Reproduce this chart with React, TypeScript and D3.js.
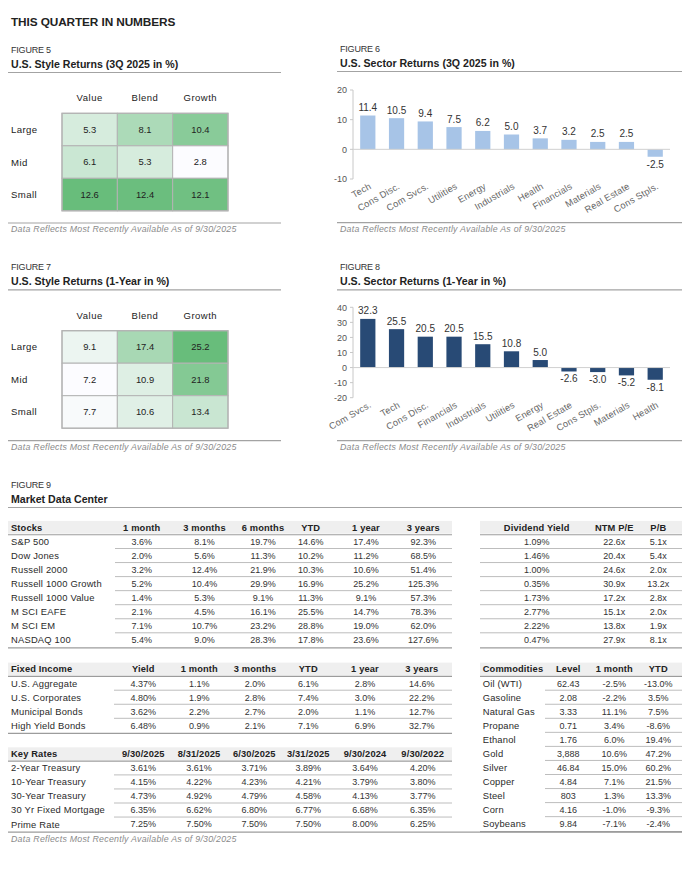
import React from "react";
import * as d3 from "d3";

// ---------- DATA ----------
const styleCols = ["Value", "Blend", "Growth"];
const styleRows = ["Large", "Mid", "Small"];
const style3Q = [
  [5.3, 8.1, 10.4],
  [6.1, 5.3, 2.8],
  [12.6, 12.4, 12.1],
];
const style1Y = [
  [9.1, 17.4, 25.2],
  [7.2, 10.9, 21.8],
  [7.7, 10.6, 13.4],
];

const sectors3Q = ["Tech", "Cons Disc.", "Com Svcs.", "Utilities", "Energy", "Industrials", "Health", "Financials", "Materials", "Real Estate", "Cons Stpls."];
const returns3Q = [11.4, 10.5, 9.4, 7.5, 6.2, 5.0, 3.7, 3.2, 2.5, 2.5, -2.5];
const ticks3Q = [-10, 0, 10, 20];

const sectors1Y = ["Com Svcs.", "Tech", "Cons Disc.", "Financials", "Industrials", "Utilities", "Energy", "Real Estate", "Cons Stpls.", "Materials", "Health"];
const returns1Y = [32.3, 25.5, 20.5, 20.5, 15.5, 10.8, 5.0, -2.6, -3.0, -5.2, -8.1];
const ticks1Y = [-20, -10, 0, 10, 20, 30, 40];

const stockHeaders = ["Stocks", "1 month", "3 months", "6 months", "YTD", "1 year", "3 years"];
const stockNames = ["S&P 500", "Dow Jones", "Russell 2000", "Russell 1000 Growth", "Russell 1000 Value", "M SCI EAFE", "M SCI EM", "NASDAQ 100"];
const stockReturns = [
  [3.6, 8.1, 19.7, 14.6, 17.4, 92.3],
  [2.0, 5.6, 11.3, 10.2, 11.2, 68.5],
  [3.2, 12.4, 21.9, 10.3, 10.6, 51.4],
  [5.2, 10.4, 29.9, 16.9, 25.2, 125.3],
  [1.4, 5.3, 9.1, 11.3, 9.1, 57.3],
  [2.1, 4.5, 16.1, 25.5, 14.7, 78.3],
  [7.1, 10.7, 23.2, 28.8, 19.0, 62.0],
  [5.4, 9.0, 28.3, 17.8, 23.6, 127.6],
];

const valuationHeaders = ["Dividend Yield", "NTM P/E", "P/B"];
const dividendYield = [1.09, 1.46, 1.0, 0.35, 1.73, 2.77, 2.22, 0.47];
const ntmPE = [22.6, 20.4, 24.6, 30.9, 17.2, 15.1, 13.8, 27.9];
const priceBook = [5.1, 5.4, 2.0, 13.2, 2.8, 2.0, 1.9, 8.1];

const fixedHeaders = ["Fixed Income", "Yield", "1 month", "3 months", "YTD", "1 year", "3 years"];
const fixedNames = ["U.S. Aggregate", "U.S. Corporates", "Municipal Bonds", "High Yield Bonds"];
const fixedYield = [4.37, 4.8, 3.62, 6.48];
const fixedReturns = [
  [1.1, 2.0, 6.1, 2.8, 14.6],
  [1.9, 2.8, 7.4, 3.0, 22.2],
  [2.2, 2.7, 2.0, 1.1, 12.7],
  [0.9, 2.1, 7.1, 6.9, 32.7],
];

const rateHeaders = ["Key Rates", "9/30/2025", "8/31/2025", "6/30/2025", "3/31/2025", "9/30/2024", "9/30/2022"];
const rateNames = ["2-Year Treasury", "10-Year Treasury", "30-Year Treasury", "30 Yr Fixed Mortgage", "Prime Rate"];
const rateValues = [
  [3.61, 3.61, 3.71, 3.89, 3.64, 4.2],
  [4.15, 4.22, 4.23, 4.21, 3.79, 3.8],
  [4.73, 4.92, 4.79, 4.58, 4.13, 3.77],
  [6.35, 6.62, 6.8, 6.77, 6.68, 6.35],
  [7.25, 7.5, 7.5, 7.5, 8.0, 6.25],
];

const commodityHeaders = ["Commodities", "Level", "1 month", "YTD"];
const commodityNames = ["Oil (WTI)", "Gasoline", "Natural Gas", "Propane", "Ethanol", "Gold", "Silver", "Copper", "Steel", "Corn", "Soybeans"];
const commodityLevel = [62.43, 2.08, 3.33, 0.71, 1.76, 3888, 46.84, 4.84, 803, 4.16, 9.84];
const commodity1M = [-2.5, -2.2, 11.1, 3.4, 6.0, 10.6, 15.0, 7.1, 1.3, -1.0, -7.1];
const commodityYTD = [-13.0, 3.5, 7.5, -8.6, 19.4, 47.2, 60.2, 21.5, 13.3, -9.3, -2.4];

const footnote = "Data Reflects Most Recently Available As of 9/30/2025";

// ---------- STYLE ----------
const FONT = "'Liberation Sans', Arial, Helvetica, sans-serif";
const TITLE_COLOR = "#222";
const RULE = "#a3a3a3";

const locale = d3.formatLocale({ decimal: ".", thousands: ",", grouping: [3], currency: ["$", ""], minus: "-" });
const f1 = locale.format(".1f");
const f2 = locale.format(".2f");
const f0c = locale.format(",.0f");
const pct1 = (v: number) => f1(v) + "%";
const pct2 = (v: number) => f2(v) + "%";
const mult = (v: number) => f1(v) + "x";
const level = (v: number) => (v >= 100 ? f0c(v) : f2(v));

function FigureHeader({ x, x2, y, fig, title }: { x: number; x2: number; y: number; fig: string; title: string }) {
  return (
    <g>
      <text x={x + 3} y={y} fontSize={9} fill="#333" letterSpacing={-0.2}>{fig}</text>
      <text x={x + 3} y={y + 14.5} fontSize={10.6} fontWeight="bold" fill={TITLE_COLOR}>{title}</text>
      <line x1={x} x2={x2} y1={y + 19.5} y2={y + 19.5} stroke={RULE} strokeWidth={1.2} />
    </g>
  );
}

function Footnote({ x, x2, y }: { x: number; x2: number; y: number }) {
  return (
    <g>
      <line x1={x} x2={x2} y1={y} y2={y} stroke={RULE} strokeWidth={1.2} />
      <text x={x + 3} y={y + 9} fontSize={8.8} fontStyle="italic" fill="#8a8a8a" letterSpacing={0.25}>{footnote}</text>
    </g>
  );
}

function Heatmap({ top, values }: { top: number; values: number[][] }) {
  const x = d3.scaleBand<string>().domain(styleCols).range([62, 228]);
  const y = d3.scaleBand<string>().domain(styleRows).range([top, top + 97.5]);
  const flat = values.flat();
  const color = d3
    .scaleLinear<string>()
    .domain([d3.min(flat) as number, d3.max(flat) as number])
    .range(["#fcfcff", "#68bd7b"])
    .interpolate(d3.interpolateRgb);
  return (
    <g>
      {styleCols.map((c) => (
        <text key={c} x={(x(c) as number) + x.bandwidth() / 2} y={top - 12} textAnchor="middle" fontSize={9.5} fill="#222" letterSpacing={0.5}>{c}</text>
      ))}
      {styleRows.map((r, i) => (
        <g key={r}>
          <text x={11} y={(y(r) as number) + y.bandwidth() / 2 + 3.5} fontSize={9.6} fill="#222" letterSpacing={0.4}>{r}</text>
          {styleCols.map((c, j) => (
            <g key={c}>
              <rect x={x(c)} y={y(r)} width={x.bandwidth()} height={y.bandwidth()} fill={color(values[i][j])} stroke="#b3b3b3" strokeWidth={1} />
              <text x={(x(c) as number) + x.bandwidth() / 2} y={(y(r) as number) + y.bandwidth() / 2 + 3.3} textAnchor="middle" fontSize={9.4} fill="#222">{f1(values[i][j])}</text>
            </g>
          ))}
        </g>
      ))}
      <rect x={62} y={top} width={166} height={97.5} fill="none" stroke="#b3b3b3" strokeWidth={1.2} />
    </g>
  );
}

function BarChart({ sectors, values, ticks, top, bottom, fill }: { sectors: string[]; values: number[]; ticks: number[]; top: number; bottom: number; fill: string }) {
  const x = d3.scaleBand<string>().domain(sectors).range([353, 670]).paddingInner(0.47).paddingOuter(0.25);
  const y = d3.scaleLinear().domain([ticks[0], ticks[ticks.length - 1]]).range([bottom, top]);
  const y0 = y(0);
  return (
    <g>
      <line x1={353} x2={353} y1={top} y2={bottom} stroke="#c8c8c8" strokeWidth={1} />
      {ticks.map((t) => (
        <g key={t}>
          <line x1={350} x2={353} y1={y(t)} y2={y(t)} stroke="#c8c8c8" strokeWidth={1} />
          <text x={347} y={y(t) + 3.2} textAnchor="end" fontSize={9} fill="#555">{String(t)}</text>
        </g>
      ))}
      {sectors.map((s, i) => {
        const v = values[i];
        const bx = x(s) as number;
        const cx = bx + x.bandwidth() / 2;
        const yv = y(v);
        return (
          <g key={s}>
            <rect x={bx} y={Math.min(yv, y0)} width={x.bandwidth()} height={Math.abs(yv - y0)} fill={fill} />
            <text x={cx} y={v >= 0 ? yv - 4.5 : yv + 11} textAnchor="middle" fontSize={10} fill="#333">{f1(v)}</text>
            <text transform={`translate(${cx + 4},${bottom + 9}) rotate(-30)`} textAnchor="end" fontSize={9.3} fill="#666" letterSpacing={0.2}>{s}</text>
          </g>
        );
      })}
      <line x1={353} x2={670} y1={y0} y2={y0} stroke="#d0d0d0" strokeWidth={1} />
    </g>
  );
}

type TableProps = {
  x0: number;
  x1: number;
  headerY: number;
  headers: string[];
  labelX?: number;
  colXs: number[];
  labels?: string[];
  cells: string[][];
  sepStart: number;
  bottomX0?: number;
  bottomX1?: number;
};

function Table({ x0, x1, headerY, headers, labelX, colXs, labels, cells, sepStart, bottomX0, bottomX1 }: TableProps) {
  const hasLabel = labels !== undefined;
  const valueHeaders = hasLabel ? headers.slice(1) : headers;
  const rowY = (i: number) => headerY + 14.2 + i * 14.05;
  const n = cells.length;
  return (
    <g>
      <rect x={x0} y={headerY - 6.4} width={x1 - x0} height={12.8} fill="#efefef" />
      {hasLabel && (
        <text x={labelX} y={headerY + 3.4} fontSize={9.3} fontWeight="bold" fill="#222" letterSpacing={0.15}>{headers[0]}</text>
      )}
      {valueHeaders.map((h, j) => (
        <text key={h + j} x={colXs[j]} y={headerY + 3.4} textAnchor="middle" fontSize={9.3} fontWeight="bold" fill="#222" letterSpacing={0.15}>{h}</text>
      ))}
      <line x1={x0} x2={x1} y1={headerY + 7.4} y2={headerY + 7.4} stroke="#9c9c9c" strokeWidth={1.1} />
      {cells.map((row, i) => (
        <g key={i}>
          {hasLabel && (
            <text x={labelX} y={rowY(i) + 3.4} fontSize={9.4} fill="#2a2a2a" letterSpacing={0.2}>{labels![i]}</text>
          )}
          {row.map((c, j) => (
            <text key={j} x={colXs[j]} y={rowY(i) + 3.3} textAnchor="middle" fontSize={9} fill="#333">{c}</text>
          ))}
          {i < n - 1 ? (
            <line x1={sepStart} x2={x1} y1={rowY(i) + 7} y2={rowY(i) + 7} stroke="#bdbdbd" strokeWidth={1} />
          ) : (
            <line x1={bottomX0 ?? x0} x2={bottomX1 ?? x1} y1={rowY(i) + 8} y2={rowY(i) + 8} stroke="#9c9c9c" strokeWidth={1.2} />
          )}
        </g>
      ))}
    </g>
  );
}

export default function App() {
  const stockCells = stockReturns.map((r) => r.map(pct1));
  const valuationCells = dividendYield.map((d, i) => [pct2(d), mult(ntmPE[i]), mult(priceBook[i])]);
  const fixedCells = fixedYield.map((yv, i) => [pct2(yv), ...fixedReturns[i].map(pct1)]);
  const rateCells = rateValues.map((r) => r.map(pct2));
  const commodityCells = commodityLevel.map((l, i) => [level(l), pct1(commodity1M[i]), pct1(commodityYTD[i])]);

  return (
    <svg width={698} height={871} style={{ position: "absolute", left: 0, top: 0, background: "#fff" }} fontFamily={FONT}>
      <rect width={698} height={871} fill="#fff" />
      <text x={11} y={26} fontSize={11.8} fontWeight="bold" fill="#222" letterSpacing={-0.1}>THIS QUARTER IN NUMBERS</text>

      {/* Figure 5 */}
      <FigureHeader x={8} x2={281} y={53} fig="FIGURE 5" title="U.S. Style Returns (3Q 2025 in %)" />
      <Heatmap top={113.3} values={style3Q} />
      <Footnote x={8} x2={281} y={223} />

      {/* Figure 6 */}
      <FigureHeader x={337} x2={682} y={52} fig="FIGURE 6" title="U.S. Sector Returns (3Q 2025 in %)" />
      <BarChart sectors={sectors3Q} values={returns3Q} ticks={ticks3Q} top={90} bottom={179} fill="#a7c4e7" />
      <Footnote x={337} x2={682} y={222.7} />

      {/* Figure 7 */}
      <FigureHeader x={8} x2={281} y={270.3} fig="FIGURE 7" title="U.S. Style Returns (1-Year in %)" />
      <Heatmap top={330.7} values={style1Y} />
      <Footnote x={8} x2={281} y={440.7} />

      {/* Figure 8 */}
      <FigureHeader x={337} x2={682} y={270.3} fig="FIGURE 8" title="U.S. Sector Returns (1-Year in %)" />
      <BarChart sectors={sectors1Y} values={returns1Y} ticks={ticks1Y} top={307.3} bottom={397.7} fill="#284a75" />
      <Footnote x={337} x2={682} y={440.7} />

      {/* Figure 9 */}
      <FigureHeader x={8} x2={682} y={488} fig="FIGURE 9" title="Market Data Center" />
      <Table x0={8} x1={452} headerY={527.3} headers={stockHeaders} labelX={11} colXs={[141.7, 204.5, 263, 310.7, 366, 423.3]} labels={stockNames} cells={stockCells} sepStart={115} />
      <Table x0={480} x1={682} headerY={527.3} headers={valuationHeaders} colXs={[536.7, 614.3, 658.3]} cells={valuationCells} sepStart={480} />
      <Table x0={8} x1={452} headerY={669} headers={fixedHeaders} labelX={11} colXs={[143.3, 199.3, 255, 308.3, 365, 421.7]} labels={fixedNames} cells={fixedCells} sepStart={114} />
      <Table x0={8} x1={452} headerY={753.7} headers={rateHeaders} labelX={11} colXs={[143.3, 199, 254.3, 308.3, 365, 422.7]} labels={rateNames} cells={rateCells} sepStart={114} bottomX1={682} />
      <Table x0={480} x1={682} headerY={669} headers={commodityHeaders} labelX={482.7} colXs={[568.3, 614.3, 658.3]} labels={commodityNames} cells={commodityCells} sepStart={545} />
      <text x={11} y={842} fontSize={8.8} fontStyle="italic" fill="#8a8a8a" letterSpacing={0.25}>{footnote}</text>
    </svg>
  );
}
